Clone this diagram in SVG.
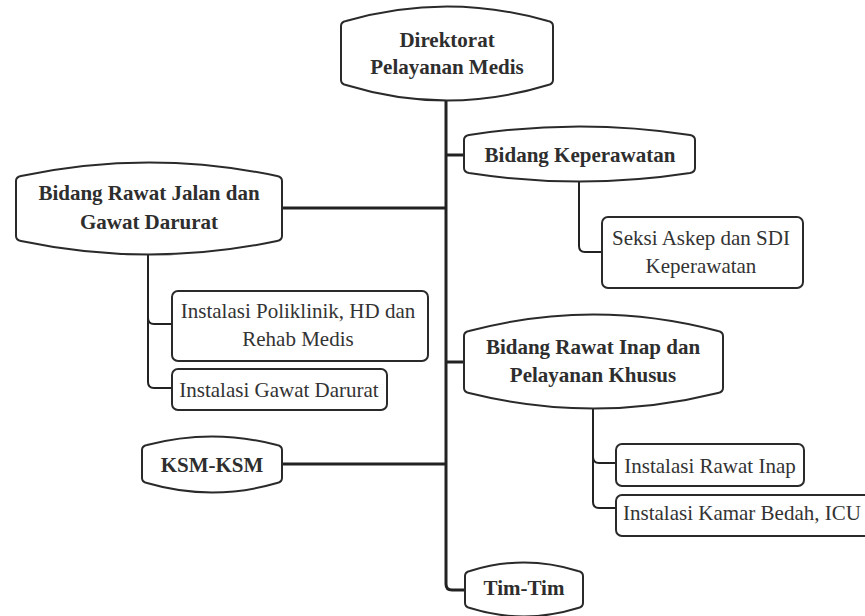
<svg xmlns="http://www.w3.org/2000/svg" width="865" height="616" viewBox="0 0 865 616">
<style>
.hdr{fill:#fff;stroke:#2a2a2a;stroke-width:2}
.box{fill:#fff;stroke:#2a2a2a;stroke-width:2}
.b{font-family:'Liberation Serif','Times New Roman',Times,serif;font-weight:bold;font-size:21px;fill:#2e2e2e;text-anchor:middle}
.r{font-family:'Liberation Serif','Times New Roman',Times,serif;font-size:21px;fill:#333;text-anchor:middle}
.l{text-anchor:start}
.main{fill:none;stroke:#222;stroke-width:3}
.sub{fill:none;stroke:#222;stroke-width:2}
</style>
<rect width="865" height="616" fill="#fff"/>
<g id="connectors">
<path class="main" d="M446,100 V584 Q446,590 452,590 H465"/>
<path class="main" d="M446,155 H464"/>
<path class="main" d="M282,208 H446"/>
<path class="main" d="M446,362 H464"/>
<path class="main" d="M282,464 H446"/>
<path class="sub" d="M579,181 V246 Q579,252 585,252 H602"/>
<path class="sub" d="M148,254 V318 Q148,324 154,324 H172"/>
<path class="sub" d="M148,318 V382 Q148,388 154,388 H172"/>
<path class="sub" d="M593,408 V457 Q593,463 599,463 H616"/>
<path class="sub" d="M593,457 V502 Q593,508 599,508 H616"/>
</g>
<g id="direktorat">
<path class="hdr" d="M341,26 Q341,22 346,21 Q447,-8 548,21 Q553,22 553,26 L553,80 Q553,84 548,85 Q447,116 346,85 Q341,84 341,80 Z"/>
<text class="b" x="447" y="47">Direktorat</text>
<text class="b" x="447" y="74">Pelayanan Medis</text>
</g>
<g id="bidang-keperawatan">
<path class="hdr" d="M464,140 Q464,136 469,135 Q579.5,118 690,135 Q695,136 695,140 L695,168 Q695,172 690,173 Q579.5,190 469,173 Q464,172 464,168 Z"/>
<text class="b" x="580" y="162">Bidang Keperawatan</text>
</g>
<g id="seksi-askep">
<rect class="box" x="602" y="217" width="201" height="71" rx="6"/>
<text class="r" x="701" y="245">Seksi Askep dan SDI</text>
<text class="r" x="701" y="273">Keperawatan</text>
</g>
<g id="bidang-rawat-jalan">
<path class="hdr" d="M16,181 Q16,177 21,176 Q149,149 277,176 Q282,177 282,181 L282,236 Q282,240 277,241 Q149,268 21,241 Q16,240 16,236 Z"/>
<text class="b" x="149" y="200">Bidang Rawat Jalan dan</text>
<text class="b" x="149" y="229">Gawat Darurat</text>
</g>
<g id="instalasi-poliklinik">
<rect class="box" x="172" y="291" width="256" height="70" rx="6"/>
<text class="r" x="298" y="318">Instalasi Poliklinik, HD dan</text>
<text class="r" x="298" y="346">Rehab Medis</text>
</g>
<g id="instalasi-gawat-darurat">
<rect class="box" x="172" y="369" width="215" height="41" rx="6"/>
<text class="r" x="279" y="397">Instalasi Gawat Darurat</text>
</g>
<g id="bidang-rawat-inap">
<path class="hdr" d="M464,336 Q464,332 469,331 Q593.5,298 718,331 Q723,332 723,336 L723,388 Q723,392 718,393 Q593.5,424 469,393 Q464,392 464,388 Z"/>
<text class="b" x="593" y="354">Bidang Rawat Inap dan</text>
<text class="b" x="593" y="382">Pelayanan Khusus</text>
</g>
<g id="instalasi-rawat-inap">
<rect class="box" x="616" y="444" width="188" height="42" rx="6"/>
<text class="r" x="710" y="473">Instalasi Rawat Inap</text>
</g>
<g id="instalasi-kamar-bedah">
<rect class="box" x="616" y="495" width="270" height="41" rx="6"/>
<text class="r l" x="623" y="520">Instalasi Kamar Bedah, ICU</text>
</g>
<g id="ksm-ksm">
<path class="hdr" d="M142,450 Q142,446 147,445 Q212,428 277,445 Q282,446 282,450 L282,478 Q282,482 277,483 Q212,502 147,483 Q142,482 142,478 Z"/>
<text class="b" x="212" y="472">KSM-KSM</text>
</g>
<g id="tim-tim">
<path class="hdr" d="M465,576 Q465,572 470,571 Q524,554 578,571 Q583,572 583,576 L583,603 Q583,607 578,608 Q524,625 470,608 Q465,607 465,603 Z"/>
<text class="b" x="524" y="595">Tim-Tim</text>
</g>
</svg>
